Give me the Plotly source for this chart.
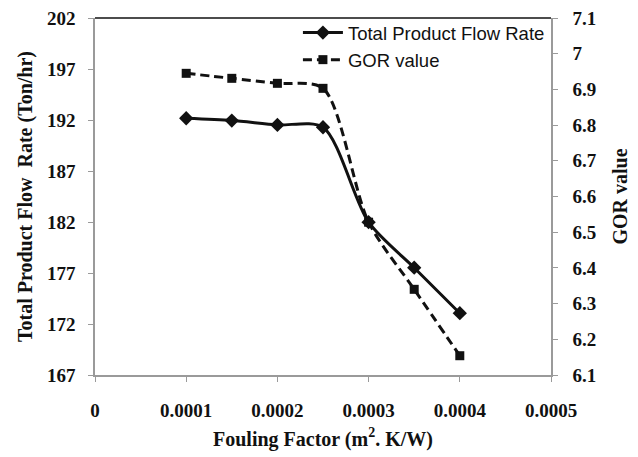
import plotly.graph_objects as go

fouling = [0.0001, 0.00015, 0.0002, 0.00025, 0.0003, 0.00035, 0.0004]
flow_rate = [192.17, 191.94, 191.52, 191.29, 181.98, 177.52, 173.06]
gor = [6.945, 6.931, 6.917, 6.903, 6.528, 6.34, 6.154]

x_ticks = [0, 0.0001, 0.0002, 0.0003, 0.0004, 0.0005]
x_labels = ["0", "0.0001", "0.0002", "0.0003", "0.0004", "0.0005"]
y1_ticks = [167, 172, 177, 182, 187, 192, 197, 202]
y2_ticks = [6.1, 6.2, 6.3, 6.4, 6.5, 6.6, 6.7, 6.8, 6.9, 7.0, 7.1]
y2_labels = ["6.1", "6.2", "6.3", "6.4", "6.5", "6.6", "6.7", "6.8", "6.9", "7", "7.1"]

serif = "Liberation Serif"


def tickfont():
    return dict(family=serif, size=19, color="#111111", weight="bold")


def titlefont():
    return dict(family=serif, size=20, color="#111111", weight="bold")


fig = go.Figure()
fig.add_trace(go.Scatter(
    x=fouling, y=flow_rate, name="Total Product Flow Rate",
    mode="lines+markers",
    line=dict(color="#111111", width=3, shape="spline", smoothing=0.8),
    marker=dict(symbol="diamond", size=11, color="#111111"),
))
fig.add_trace(go.Scatter(
    x=fouling, y=gor, name="GOR value", yaxis="y2",
    mode="lines+markers",
    line=dict(color="#111111", width=3, dash="9px,5px", shape="spline", smoothing=0.8),
    marker=dict(symbol="square", size=9, color="#111111"),
))

line_common = dict(
    showgrid=False, zeroline=False, showline=True, linecolor="#9a9a9a", linewidth=1.5,
    ticks="outside", ticklen=5, tickcolor="#9a9a9a", tickwidth=1, automargin=False,
    ticklabeloverflow="allow",
)

fig.update_layout(
    width=638, height=457,
    margin=dict(l=87, r=95, t=10, b=90, autoexpand=False),
    paper_bgcolor="white", plot_bgcolor="white",
    showlegend=True,
    legend=dict(x=0.445, y=1.011, xanchor="left", yanchor="top",
                font=dict(family="Liberation Sans", size=18.5, color="#111111"),
                bgcolor="rgba(0,0,0,0)", tracegroupgap=0, itemwidth=40),
    xaxis=dict(range=[0, 0.0005], tickvals=x_ticks, ticktext=x_labels,
               tickfont=tickfont(),
               title=dict(text="Fouling Factor (m<sup>2</sup>. K/W)", standoff=12,
                          font=titlefont()),
               ticklabelstandoff=12, **line_common),
    yaxis=dict(range=[167, 202], tickvals=y1_ticks, ticktext=[str(v) for v in y1_ticks],
               tickfont=tickfont(),
               title=dict(text="Total Product Flow  Rate (Ton/hr)", standoff=9,
                          font=titlefont()),
               ticklabelstandoff=9, **line_common),
    yaxis2=dict(range=[6.1, 7.1], tickvals=y2_ticks, ticktext=y2_labels,
                overlaying="y", side="right",
                tickfont=tickfont(),
                title=dict(text="GOR value", standoff=17, font=titlefont()),
                ticklabelstandoff=11, **line_common),
)
fig.add_shape(type="line", xref="paper", yref="paper", x0=0, x1=1, y0=1, y1=1,
              line=dict(color="#111111", width=1.5))

fig.write_html("out.html")
